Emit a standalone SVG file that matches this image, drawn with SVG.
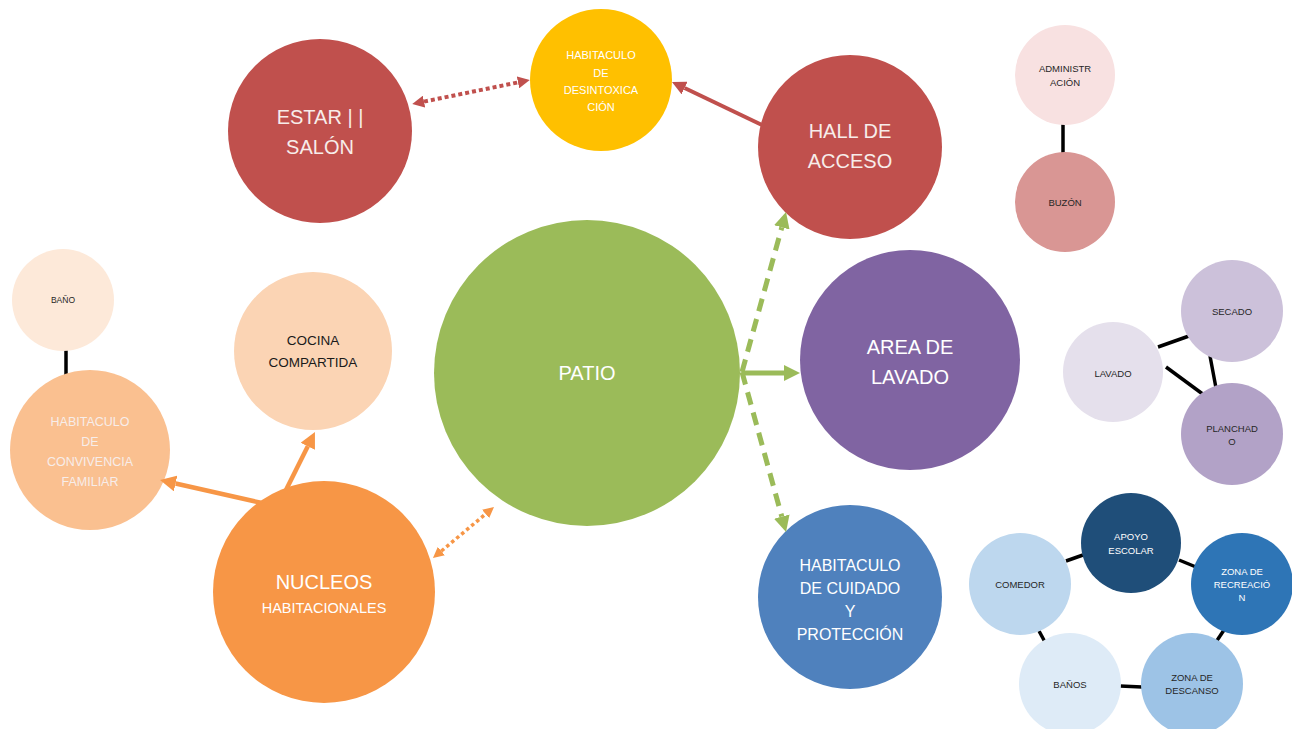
<svg xmlns="http://www.w3.org/2000/svg" width="1292" height="729" viewBox="0 0 1292 729">
<style>
text{font-family:"Liberation Sans",Arial,sans-serif;text-anchor:middle;}
.w{fill:#FFFFFF}
.lw{fill:#F7EDEA}
.d{fill:#262626}
.s{font-size:9.5px}
.link{stroke:#000;stroke-width:3.5;fill:none}
</style>
<defs>
<marker id="aRed" markerUnits="userSpaceOnUse" viewBox="0 0 14 14" markerWidth="14" markerHeight="14" refX="0" refY="7" orient="auto-start-reverse"><path d="M0,0 L14,7 L0,14 z" fill="#C0504D"/></marker>
<marker id="aRedS" markerUnits="userSpaceOnUse" viewBox="0 0 12 12" markerWidth="12" markerHeight="12" refX="0" refY="6" orient="auto-start-reverse"><path d="M0,0 L12,6 L0,12 z" fill="#C0504D"/></marker>
<marker id="aGreen" markerUnits="userSpaceOnUse" viewBox="0 0 16 16" markerWidth="16" markerHeight="16" refX="0" refY="8" orient="auto-start-reverse"><path d="M0,0 L16,8 L0,16 z" fill="#9BBB59"/></marker>
<marker id="aOrange" markerUnits="userSpaceOnUse" viewBox="0 0 16 16" markerWidth="16" markerHeight="16" refX="0" refY="8" orient="auto-start-reverse"><path d="M0,0 L16,8 L0,16 z" fill="#F79646"/></marker>
<marker id="aOrangeS" markerUnits="userSpaceOnUse" viewBox="0 0 11 11" markerWidth="11" markerHeight="11" refX="0" refY="5.5" orient="auto-start-reverse"><path d="M0,0 L11,5.5 L0,11 z" fill="#F79646"/></marker>
</defs>

<g id="connectors">
<line class="link" x1="1063" y1="124" x2="1063" y2="153"/>
<line class="link" x1="66" y1="350" x2="66" y2="376"/>
<line class="link" x1="1158" y1="347" x2="1189" y2="336"/>
<line class="link" x1="1166" y1="367" x2="1204" y2="395"/>
<line class="link" x1="1210" y1="356" x2="1216" y2="388"/>
<line class="link" x1="1066" y1="561" x2="1083" y2="555"/>
<line class="link" x1="1179" y1="560" x2="1196" y2="567"/>
<line class="link" x1="1224" y1="630" x2="1216" y2="642"/>
<line class="link" x1="1039" y1="631" x2="1045" y2="642"/>
<line class="link" x1="1120" y1="686" x2="1142" y2="687"/>
</g>

<g id="estar"><circle cx="320" cy="131" r="92" fill="#C0504D"/><text class="lw" font-size="20" x="320" y="124">ESTAR | |</text><text class="lw" font-size="20" x="320" y="154">SALÓN</text></g>
<g id="desintoxicacion"><circle cx="601" cy="80" r="71" fill="#FFC000"/><text class="w" font-size="11" x="601" y="59">HABITACULO</text><text class="w" font-size="11" x="601" y="77">DE</text><text class="w" font-size="11" x="601" y="94">DESINTOXICA</text><text class="w" font-size="11" x="601" y="111">CIÓN</text></g>
<g id="hall"><circle cx="850" cy="147" r="92" fill="#C0504D"/><text class="lw" font-size="20" x="850" y="138">HALL DE</text><text class="lw" font-size="20" x="850" y="168">ACCESO</text></g>
<g id="administracion"><circle cx="1065" cy="75" r="50" fill="#F8E1E1"/><text class="d s" x="1065" y="72">ADMINISTR</text><text class="d s" x="1065" y="86">ACIÓN</text></g>
<g id="buzon"><circle cx="1065" cy="202" r="50" fill="#D99694"/><text class="d s" x="1065" y="206">BUZÓN</text></g>
<g id="bano"><circle cx="63" cy="300" r="51" fill="#FDE9D9"/><text class="d" font-size="8.5" x="63" y="303">BAÑO</text></g>
<g id="cocina"><circle cx="313" cy="351" r="79" fill="#FBD4B4"/><text fill="#1a1a1a" font-size="13.5" x="313" y="345">COCINA</text><text fill="#1a1a1a" font-size="13.5" x="313" y="367">COMPARTIDA</text></g>
<g id="convivencia"><circle cx="90" cy="450" r="80" fill="#FAC090"/><text class="lw" font-size="12.5" x="90" y="426">HABITACULO</text><text class="lw" font-size="12.5" x="90" y="446">DE</text><text class="lw" font-size="12.5" x="90" y="466">CONVIVENCIA</text><text class="lw" font-size="12.5" x="90" y="486">FAMILIAR</text></g>
<g id="patio"><circle cx="587" cy="373" r="153" fill="#9BBB59"/><text class="w" font-size="20" x="587" y="380">PATIO</text></g>
<g id="area-lavado"><circle cx="910" cy="360" r="110" fill="#8064A2"/><text class="w" font-size="20" x="910" y="354">AREA DE</text><text class="w" font-size="20" x="910" y="384">LAVADO</text></g>
<g id="nucleos"><circle cx="324" cy="592" r="111" fill="#F79646"/><text class="w" font-size="20" x="324" y="589">NUCLEOS</text><text class="w" font-size="14.5" x="324" y="613">HABITACIONALES</text></g>
<g id="cuidado"><circle cx="850" cy="597" r="92" fill="#4F81BD"/><text class="w" font-size="16" x="850" y="571">HABITACULO</text><text class="w" font-size="16" x="850" y="594">DE CUIDADO</text><text class="w" font-size="16" x="850" y="617">Y</text><text class="w" font-size="16" x="850" y="640">PROTECCIÓN</text></g>
<g id="secado"><circle cx="1232" cy="311" r="51" fill="#CCC1DA"/><text class="d s" x="1232" y="315">SECADO</text></g>
<g id="lavado"><circle cx="1113" cy="372" r="50" fill="#E5E0EC"/><text class="d s" x="1113" y="377">LAVADO</text></g>
<g id="planchado"><circle cx="1232" cy="434" r="51" fill="#B2A2C7"/><text class="d s" x="1232" y="432">PLANCHAD</text><text class="d s" x="1232" y="445">O</text></g>
<g id="apoyo-escolar"><circle cx="1131" cy="543" r="50" fill="#1F4E79"/><text class="w s" x="1131" y="540">APOYO</text><text class="w s" x="1131" y="554">ESCOLAR</text></g>
<g id="comedor"><circle cx="1020" cy="584" r="51" fill="#BDD7EE"/><text class="d s" x="1020" y="588">COMEDOR</text></g>
<g id="zona-recreacion"><circle cx="1242" cy="584" r="51" fill="#2E75B6"/><text class="w s" x="1242" y="575">ZONA DE</text><text class="w s" x="1242" y="588">RECREACIÓ</text><text class="w s" x="1242" y="601">N</text></g>
<g id="banos"><circle cx="1070" cy="684" r="51" fill="#DEEBF7"/><text class="d s" x="1070" y="688">BAÑOS</text></g>
<g id="zona-descanso"><circle cx="1192" cy="684" r="51" fill="#9DC3E6"/><text class="d s" x="1192" y="681">ZONA DE</text><text class="d s" x="1192" y="694">DESCANSO</text></g>

<g id="arrows">
<line x1="424" y1="101.6" x2="518" y2="82.4" stroke="#C0504D" stroke-width="4" stroke-dasharray="4 3" marker-start="url(#aRedS)" marker-end="url(#aRedS)"/>
<line x1="762" y1="125" x2="684.6" y2="88" stroke="#C0504D" stroke-width="4" marker-end="url(#aRed)"/>
<line x1="742" y1="372" x2="781.8" y2="227.4" stroke="#9BBB59" stroke-width="5" stroke-dasharray="13 8" marker-end="url(#aGreen)"/>
<line x1="742" y1="373" x2="784" y2="373" stroke="#9BBB59" stroke-width="5" marker-end="url(#aGreen)"/>
<line x1="742" y1="372" x2="781.8" y2="516.6" stroke="#9BBB59" stroke-width="5" stroke-dasharray="13 8" marker-end="url(#aGreen)"/>
<line x1="262" y1="503" x2="175.6" y2="483.5" stroke="#F79646" stroke-width="4.5" marker-end="url(#aOrange)"/>
<line x1="285" y1="492" x2="307.8" y2="446.3" stroke="#F79646" stroke-width="4.5" marker-end="url(#aOrange)"/>
<line x1="441.4" y1="551" x2="485.6" y2="514" stroke="#F79646" stroke-width="3.5" stroke-dasharray="3.5 3" marker-start="url(#aOrangeS)" marker-end="url(#aOrangeS)"/>
</g>
</svg>
